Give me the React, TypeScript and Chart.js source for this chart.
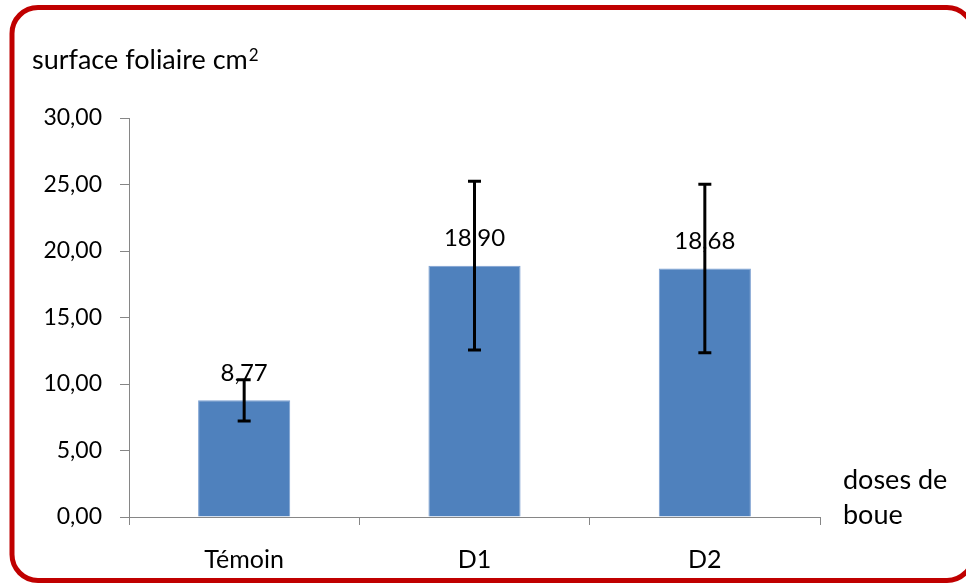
import React, { useEffect, useRef } from "react";
import { Chart, registerables } from "chart.js";

Chart.register(...registerables);

const categories = ["Témoin", "D1", "D2"];
const values = [8.77, 18.9, 18.68];
const errors = [1.55, 6.35, 6.33];
const yMin = 0;
const yMax = 30;
const yStep = 5;
const yTitle = "surface foliaire cm";
const yTitleSup = "2";
const xTitleLines = ["doses de", "boue"];

const FONT = "Lato, 'Open Sans', sans-serif";
const fmt = (v: number) => v.toFixed(2).replace(".", ",");

const framePlugin = {
  id: "frame",
  beforeDraw(chart: any) {
    const ctx = chart.ctx;
    ctx.save();
    ctx.fillStyle = "#ffffff";
    ctx.fillRect(0, 0, chart.width, chart.height);
    ctx.strokeStyle = "#c00000";
    ctx.lineWidth = 5;
    ctx.beginPath();
    (ctx as any).roundRect(12, 7.5, 961, 573, 26);
    ctx.stroke();
    ctx.restore();
  },
  afterDraw(chart: any) {
    const ctx = chart.ctx;
    ctx.save();
    ctx.fillStyle = "#000000";
    ctx.font = `27px ${FONT}`;
    ctx.textBaseline = "alphabetic";
    ctx.textAlign = "left";
    ctx.fillText(yTitle, 32, 69);
    const w = ctx.measureText(yTitle).width;
    ctx.font = `17px ${FONT}`;
    ctx.fillText(yTitleSup, 32 + w + 1, 61);
    ctx.font = `27px ${FONT}`;
    ctx.textBaseline = "middle";
    xTitleLines.forEach((t, i) => ctx.fillText(t, 843, 480 + i * 35));
    ctx.restore();
  },
};

const errorPlugin = {
  id: "errorbars",
  afterDatasetsDraw(chart: any) {
    const ctx = chart.ctx;
    const meta = chart.getDatasetMeta(0);
    const ys = chart.scales.y;
    ctx.save();
    ctx.fillStyle = "#000000";
    ctx.font = `24px ${FONT}`;
    ctx.textAlign = "center";
    ctx.textBaseline = "middle";
    meta.data.forEach((bar: any, i: number) => {
      ctx.fillText(fmt(values[i]), bar.x, bar.y - 27);
    });
    ctx.strokeStyle = "#000000";
    ctx.lineWidth = 3;
    meta.data.forEach((bar: any, i: number) => {
      const top = ys.getPixelForValue(values[i] + errors[i]);
      const bot = ys.getPixelForValue(values[i] - errors[i]);
      const x = bar.x;
      ctx.beginPath();
      ctx.moveTo(x, top);
      ctx.lineTo(x, bot);
      ctx.moveTo(x - 6.5, top);
      ctx.lineTo(x + 6.5, top);
      ctx.moveTo(x - 6.5, bot);
      ctx.lineTo(x + 6.5, bot);
      ctx.stroke();
    });
    ctx.restore();
  },
};

export default function App() {
  const ref = useRef<HTMLCanvasElement | null>(null);
  useEffect(() => {
    document.body.style.margin = "0";
    const canvas = ref.current;
    if (!canvas) return;
    const chart = new Chart(canvas, {
      type: "bar",
      data: {
        labels: categories,
        datasets: [
          {
            data: values,
            backgroundColor: "#4f81bd",
            borderColor: "#7b9fd1",
            borderWidth: 1,
            categoryPercentage: 1,
            barPercentage: 0.4,
          },
        ],
      },
      options: {
        animation: false,
        responsive: true,
        maintainAspectRatio: false,
        layout: { padding: { left: 0, right: 146, top: 118, bottom: 0 } },
        plugins: {
          legend: { display: false },
          tooltip: { enabled: false },
        },
        scales: {
          x: {
            grid: {
              display: true,
              drawOnChartArea: false,
              drawTicks: true,
              tickLength: 8,
              color: "#868686",
              offset: true,
            },
            border: { display: true, color: "#868686", width: 1 },
            ticks: {
              color: "#000000",
              font: { family: FONT, size: 25 },
              padding: 20,
              maxRotation: 0,
            },
            afterFit: (s: any) => {
              s.height = 67;
            },
          },
          y: {
            min: yMin,
            max: yMax,
            grid: {
              display: true,
              drawOnChartArea: false,
              drawTicks: true,
              tickLength: 9,
              color: "#868686",
            },
            border: { display: true, color: "#868686", width: 1 },
            ticks: {
              stepSize: yStep,
              color: "#000000",
              font: { family: FONT, size: 23 },
              padding: 18,
              callback: (v: any) => fmt(Number(v)),
            },
            afterFit: (s: any) => {
              s.width = 129;
            },
          },
        },
      },
      plugins: [framePlugin, errorPlugin],
    });
    return () => chart.destroy();
  }, []);
  return (
    <div style={{ position: "absolute", left: 0, top: 0, width: 966, height: 584 }}>
      <canvas ref={ref} />
    </div>
  );
}
